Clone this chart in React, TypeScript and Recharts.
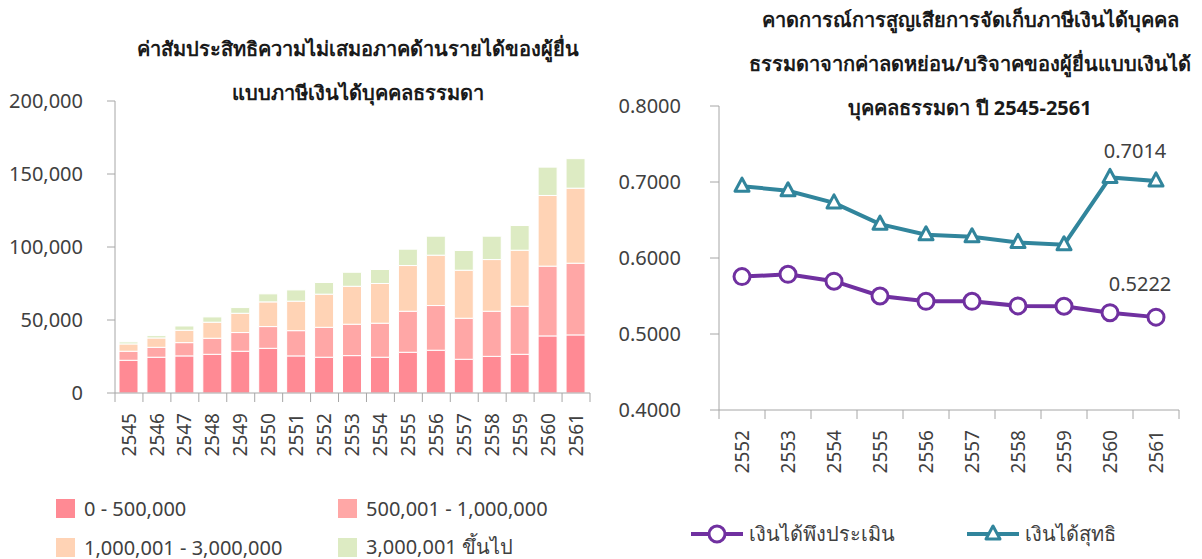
import React from 'react';
import { BarChart, Bar, LineChart, Line, XAxis, YAxis, LabelList } from 'recharts';

// left chart: stacked bars by income bracket
const years = ['2545', '2546', '2547', '2548', '2549', '2550', '2551', '2552', '2553', '2554', '2555', '2556', '2557', '2558', '2559', '2560', '2561'];
const bracket1 = [22400, 24500, 25400, 26500, 28600, 30600, 25400, 24500, 25600, 24500, 27900, 29300, 23100, 25100, 26500, 39100, 39800];
const bracket2 = [6200, 6800, 9100, 11000, 12800, 14900, 17300, 20500, 21500, 23300, 28100, 30600, 28100, 30900, 32900, 47800, 49100];
const bracket3 = [5000, 6400, 8500, 11000, 13200, 16900, 20200, 22700, 26000, 27200, 31300, 34500, 32900, 35400, 38400, 48400, 51400];
const bracket4 = [1400, 1600, 2900, 3600, 3900, 5500, 7700, 8000, 9600, 9600, 11200, 13000, 13500, 16000, 16900, 19400, 20200];
const bracketNames = ['0 - 500,000', '500,001 - 1,000,000', '1,000,001 - 3,000,000', '3,000,001 ขึ้นไป'];
const bracketColors = ['#FF8A94', '#FFA7A6', '#FFD3B5', '#DDEBC3'];
const barTicks = [0, 50000, 100000, 150000, 200000];

// right chart: two lines
const lineYears = ['2552', '2553', '2554', '2555', '2556', '2557', '2558', '2559', '2560', '2561'];
const assessable = [0.5755, 0.5785, 0.5695, 0.5500, 0.5430, 0.5430, 0.5370, 0.5365, 0.5280, 0.5222];
const netIncome = [0.6945, 0.6885, 0.6725, 0.6445, 0.6305, 0.6280, 0.6205, 0.6175, 0.7060, 0.7014];
const lineNames = ['เงินได้พึงประเมิน', 'เงินได้สุทธิ'];
const lineColors = ['#7030A0', '#31859C'];
const lineTicks = [0.4, 0.5, 0.6, 0.7, 0.8];

const FONT = '"Noto Sans", sans-serif';
const AXIS = '#A6A6A6';
const TEXT = '#404040';

const barData = years.map((year, i) => ({
  year,
  b1: bracket1[i],
  b2: bracket2[i],
  b3: bracket3[i],
  b4: bracket4[i],
}));

const lineData = lineYears.map((year, i) => ({
  year,
  assessable: assessable[i],
  net: netIncome[i],
}));

const formatThousands = (v: number) => v.toLocaleString('en-US');

function makeTick(halfBand: number, count: number, labelGap: number) {
  return (props: any) => {
    const { x, y, payload, index } = props;
    const ly = y + labelGap;
    return (
      <g>
        <line x1={x - halfBand} y1={y} x2={x - halfBand} y2={y + 9} stroke={AXIS} />
        {index === count - 1 && <line x1={x + halfBand} y1={y} x2={x + halfBand} y2={y + 9} stroke={AXIS} />}
        <text
          x={x}
          y={ly}
          dy="0.35em"
          textAnchor="end"
          transform={`rotate(-90, ${x}, ${ly})`}
          fill={TEXT}
          fontSize={19}
          fontFamily={FONT}
        >
          {payload.value}
        </text>
      </g>
    );
  };
}

const CircleDot = (props: any) => {
  const { cx, cy, index } = props;
  return <circle key={`c-${index}`} cx={cx} cy={cy} r={8} fill="#fff" stroke={lineColors[0]} strokeWidth={3} />;
};

const TriangleDot = (props: any) => {
  const { cx, cy, index } = props;
  return (
    <path
      key={`t-${index}`}
      d={`M${cx},${cy - 8} L${cx - 7},${cy + 5} L${cx + 7},${cy + 5} Z`}
      fill="#fff"
      stroke={lineColors[1]}
      strokeWidth={3}
      strokeLinejoin="round"
    />
  );
};

const lastLabel = (dx: number, dy: number) => (props: any) => {
  const { x, y, value, index } = props;
  if (index !== lineYears.length - 1) return null;
  return (
    <text x={x + dx} y={y + dy} textAnchor="middle" dominantBaseline="central" fill={TEXT} fontSize={20} fontFamily={FONT}>
      {Number(value).toFixed(4)}
    </text>
  );
};

const titleStyle: React.CSSProperties = {
  position: 'absolute',
  fontWeight: 'bold',
  fontSize: 20,
  color: '#1a1a1a',
  textAlign: 'center',
  lineHeight: '44px',
  whiteSpace: 'nowrap',
};

export default function App() {
  return (
    <div style={{ position: 'absolute', left: 0, top: 0, width: 1202, height: 559, background: '#fff', fontFamily: FONT, overflow: 'hidden' }}>
      <div style={{ ...titleStyle, left: 58, width: 600, top: 27 }}>
        ค่าสัมประสิทธิความไม่เสมอภาคด้านรายได้ของผู้ยื่น
        <br />
        แบบภาษีเงินได้บุคคลธรรมดา
      </div>
      <div style={{ ...titleStyle, left: 670, width: 600, top: -2 }}>
        คาดการณ์การสูญเสียการจัดเก็บภาษีเงินได้บุคคล
        <br />
        ธรรมดาจากค่าลดหย่อน/บริจาคของผู้ยื่นแบบเงินได้
        <br />
        บุคคลธรรมดา ปี 2545-2561
      </div>

      <div style={{ position: 'absolute', left: 0, top: 0 }}>
        <BarChart width={600} height={559} data={barData} margin={{ top: 101, right: 10, left: 0, bottom: 96 }} barSize={19}>
          <YAxis
            width={115}
            domain={[0, 200000]}
            ticks={barTicks}
            tickFormatter={formatThousands}
            axisLine={{ stroke: AXIS }}
            tickLine={{ stroke: AXIS }}
            tickSize={8}
            tickMargin={24}
            tick={{ fill: TEXT, fontSize: 20, fontFamily: FONT }}
            interval={0}
          />
          <XAxis
            dataKey="year"
            height={70}
            axisLine={{ stroke: AXIS }}
            tickLine={false}
            tickSize={0}
            tickMargin={0}
            interval={0}
            tick={makeTick(475 / 17 / 2, years.length, 20)}
          />
          <Bar dataKey="b1" stackId="s" fill={bracketColors[0]} stroke="#fff" strokeWidth={1} isAnimationActive={false} />
          <Bar dataKey="b2" stackId="s" fill={bracketColors[1]} stroke="#fff" strokeWidth={1} isAnimationActive={false} />
          <Bar dataKey="b3" stackId="s" fill={bracketColors[2]} stroke="#fff" strokeWidth={1} isAnimationActive={false} />
          <Bar dataKey="b4" stackId="s" fill={bracketColors[3]} stroke="#fff" strokeWidth={1} isAnimationActive={false} />
        </BarChart>
      </div>

      {bracketNames.map((name, i) => (
        <div
          key={name}
          style={{
            position: 'absolute',
            left: i % 2 === 0 ? 56 : 338,
            top: i < 2 ? 497 : 536,
            height: 22,
            display: 'flex',
            alignItems: 'center',
            fontSize: 20,
            color: TEXT,
            whiteSpace: 'nowrap',
          }}
        >
          <span style={{ width: 19, height: 19, background: bracketColors[i], marginRight: 9 }} />
          {name}
        </div>
      ))}

      <div style={{ position: 'absolute', left: 600, top: 0 }}>
        <LineChart width={602} height={559} data={lineData} margin={{ top: 106, right: 23, left: 0, bottom: 79 }}>
          <YAxis
            width={119}
            domain={[0.4, 0.8]}
            ticks={lineTicks}
            tickFormatter={(v: number) => v.toFixed(4)}
            axisLine={{ stroke: AXIS }}
            tickLine={{ stroke: AXIS }}
            tickSize={9}
            tickMargin={29}
            tick={{ fill: TEXT, fontSize: 20, fontFamily: FONT }}
            interval={0}
          />
          <XAxis
            dataKey="year"
            height={70}
            padding={{ left: 23, right: 23 }}
            axisLine={{ stroke: AXIS }}
            tickLine={false}
            tickSize={0}
            tickMargin={0}
            interval={0}
            tick={makeTick(23, lineYears.length, 20)}
          />
          <Line dataKey="assessable" stroke={lineColors[0]} strokeWidth={4} dot={CircleDot} isAnimationActive={false}>
            <LabelList dataKey="assessable" content={lastLabel(-16, -34)} />
          </Line>
          <Line dataKey="net" stroke={lineColors[1]} strokeWidth={4} dot={TriangleDot} isAnimationActive={false}>
            <LabelList dataKey="net" content={lastLabel(-21, -30)} />
          </Line>
        </LineChart>
      </div>

      {lineNames.map((name, i) => (
        <div
          key={name}
          style={{
            position: 'absolute',
            left: i === 0 ? 691 : 967,
            top: 520,
            height: 28,
            display: 'flex',
            alignItems: 'center',
            fontSize: 20,
            color: TEXT,
            whiteSpace: 'nowrap',
          }}
        >
          <svg width={54} height={24} style={{ marginRight: 4 }}>
            <line x1={0} y1={12} x2={52} y2={12} stroke={lineColors[i]} strokeWidth={4} />
            {i === 0 ? (
              <circle cx={26} cy={12} r={8} fill="#fff" stroke={lineColors[0]} strokeWidth={3} />
            ) : (
              <path d="M26,4 L19,17 L33,17 Z" fill="#fff" stroke={lineColors[1]} strokeWidth={3} strokeLinejoin="round" />
            )}
          </svg>
          {name}
        </div>
      ))}
    </div>
  );
}
